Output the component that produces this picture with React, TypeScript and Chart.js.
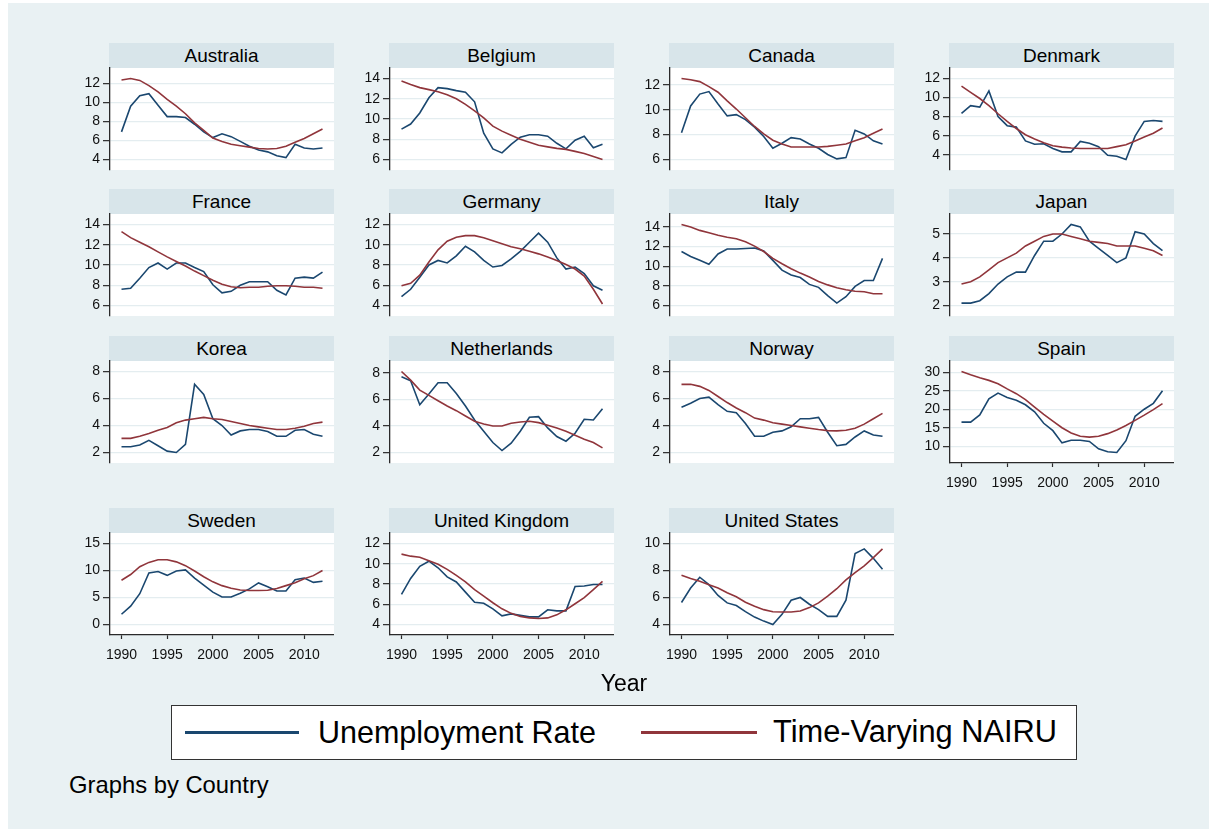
import React, { useEffect, useRef } from "react";
import { Chart, registerables } from "chart.js";
Chart.register(...registerables);

const years = [1990, 1991, 1992, 1993, 1994, 1995, 1996, 1997, 1998, 1999, 2000, 2001, 2002, 2003, 2004, 2005, 2006, 2007, 2008, 2009, 2010, 2011, 2012];
const xTicks = [1990, 1995, 2000, 2005, 2010];

const countries = ["Australia", "Belgium", "Canada", "Denmark", "France", "Germany", "Italy", "Japan", "Korea", "Netherlands", "Norway", "Spain", "Sweden", "United Kingdom", "United States"];

const australiaUnemp = [6.9, 9.6, 10.7, 10.9, 9.7, 8.5, 8.5, 8.4, 7.7, 6.9, 6.3, 6.7, 6.4, 5.9, 5.4, 5.0, 4.8, 4.4, 4.2, 5.6, 5.2, 5.1, 5.2];
const australiaNairu = [12.35, 12.5, 12.3, 11.75, 11.1, 10.3, 9.6, 8.8, 7.85, 7.05, 6.25, 5.9, 5.6, 5.45, 5.3, 5.15, 5.1, 5.15, 5.4, 5.8, 6.2, 6.7, 7.2];
const australiaTicks = [4, 6, 8, 10, 12];

const belgiumUnemp = [9.0, 9.5, 10.6, 12.1, 13.1, 13.0, 12.8, 12.65, 11.7, 8.6, 7.05, 6.65, 7.5, 8.2, 8.45, 8.45, 8.3, 7.6, 7.05, 7.9, 8.3, 7.15, 7.5];
const belgiumNairu = [13.75, 13.4, 13.1, 12.9, 12.7, 12.4, 12.0, 11.45, 10.8, 10.1, 9.3, 8.8, 8.4, 8.0, 7.7, 7.4, 7.25, 7.1, 7.0, 6.8, 6.6, 6.3, 6.0];
const belgiumTicks = [6, 8, 10, 12, 14];

const canadaUnemp = [8.15, 10.3, 11.25, 11.45, 10.45, 9.5, 9.6, 9.2, 8.6, 7.85, 6.9, 7.3, 7.75, 7.65, 7.25, 6.9, 6.4, 6.05, 6.15, 8.35, 8.05, 7.5, 7.25];
const canadaNairu = [12.5, 12.4, 12.25, 11.85, 11.4, 10.7, 10.05, 9.35, 8.65, 8.05, 7.55, 7.25, 7.0, 7.0, 7.0, 7.0, 7.05, 7.15, 7.25, 7.5, 7.75, 8.1, 8.45];
const canadaTicks = [6, 8, 10, 12];

const denmarkUnemp = [8.35, 9.15, 9.0, 10.7, 8.0, 7.05, 6.9, 5.45, 5.1, 5.15, 4.65, 4.3, 4.3, 5.4, 5.2, 4.85, 3.95, 3.85, 3.5, 5.95, 7.5, 7.6, 7.5];
const denmarkNairu = [11.2, 10.55, 9.9, 9.15, 8.3, 7.5, 6.75, 6.1, 5.65, 5.25, 4.95, 4.8, 4.7, 4.65, 4.65, 4.65, 4.65, 4.85, 5.05, 5.45, 5.85, 6.25, 6.8];
const denmarkTicks = [4, 6, 8, 10, 12];

const franceUnemp = [7.6, 7.7, 8.7, 9.75, 10.2, 9.6, 10.2, 10.2, 9.75, 9.35, 8.05, 7.25, 7.4, 8.0, 8.35, 8.35, 8.35, 7.5, 7.05, 8.7, 8.8, 8.7, 9.3];
const franceNairu = [13.3, 12.7, 12.25, 11.8, 11.3, 10.8, 10.35, 9.9, 9.4, 8.95, 8.5, 8.1, 7.85, 7.75, 7.8, 7.8, 7.9, 7.95, 7.95, 7.9, 7.8, 7.8, 7.7];
const franceTicks = [6, 8, 10, 12, 14];

const germanyUnemp = [4.87, 5.6, 6.8, 8.0, 8.45, 8.2, 8.9, 9.85, 9.3, 8.45, 7.8, 7.95, 8.6, 9.35, 10.25, 11.15, 10.25, 8.7, 7.6, 7.8, 7.15, 5.95, 5.5];
const germanyNairu = [5.95, 6.2, 7.0, 8.3, 9.5, 10.35, 10.75, 10.9, 10.9, 10.7, 10.4, 10.1, 9.8, 9.6, 9.35, 9.1, 8.8, 8.45, 8.05, 7.6, 6.9, 5.6, 4.15];
const germanyTicks = [4, 6, 8, 10, 12];

const italyUnemp = [11.5, 11.0, 10.6, 10.2, 11.25, 11.75, 11.75, 11.8, 11.85, 11.55, 10.6, 9.6, 9.1, 8.85, 8.15, 7.85, 7.0, 6.25, 6.9, 7.95, 8.55, 8.55, 10.8];
const italyNairu = [14.25, 14.0, 13.65, 13.4, 13.15, 12.95, 12.8, 12.5, 12.05, 11.5, 10.8, 10.25, 9.75, 9.3, 8.9, 8.45, 8.1, 7.8, 7.6, 7.45, 7.4, 7.2, 7.2];
const italyTicks = [6, 8, 10, 12, 14];

const japanUnemp = [2.1, 2.1, 2.2, 2.5, 2.9, 3.2, 3.4, 3.4, 4.1, 4.7, 4.7, 5.0, 5.4, 5.3, 4.7, 4.4, 4.1, 3.8, 4.0, 5.1, 5.0, 4.6, 4.3];
const japanNairu = [2.9, 3.0, 3.2, 3.5, 3.8, 4.0, 4.2, 4.5, 4.7, 4.9, 5.0, 5.0, 4.9, 4.8, 4.7, 4.65, 4.6, 4.5, 4.5, 4.5, 4.4, 4.3, 4.1];
const japanTicks = [2, 3, 4, 5];

const koreaUnemp = [2.43, 2.43, 2.55, 2.9, 2.5, 2.1, 2.0, 2.6, 7.05, 6.3, 4.5, 4.0, 3.3, 3.6, 3.7, 3.7, 3.55, 3.2, 3.2, 3.65, 3.7, 3.35, 3.2];
const koreaNairu = [3.05, 3.05, 3.2, 3.4, 3.65, 3.85, 4.2, 4.4, 4.5, 4.6, 4.5, 4.45, 4.3, 4.15, 4.0, 3.9, 3.8, 3.7, 3.7, 3.8, 3.95, 4.15, 4.25];
const koreaTicks = [2, 4, 6, 8];

const netherlandsUnemp = [7.7, 7.4, 5.6, 6.4, 7.25, 7.25, 6.45, 5.5, 4.45, 3.6, 2.75, 2.15, 2.7, 3.6, 4.65, 4.7, 3.85, 3.2, 2.85, 3.45, 4.5, 4.45, 5.3];
const netherlandsNairu = [8.1, 7.45, 6.7, 6.3, 5.9, 5.5, 5.15, 4.75, 4.35, 4.15, 4.0, 4.0, 4.2, 4.3, 4.35, 4.25, 4.05, 3.85, 3.6, 3.3, 3.0, 2.75, 2.35];
const netherlandsTicks = [2, 4, 6, 8];

const norwayUnemp = [5.35, 5.65, 6.0, 6.1, 5.55, 5.05, 4.95, 4.15, 3.2, 3.2, 3.5, 3.6, 3.9, 4.5, 4.5, 4.6, 3.5, 2.5, 2.6, 3.15, 3.6, 3.3, 3.2];
const norwayNairu = [7.05, 7.05, 6.9, 6.6, 6.15, 5.7, 5.3, 4.95, 4.55, 4.4, 4.2, 4.1, 4.0, 3.9, 3.8, 3.7, 3.62, 3.6, 3.65, 3.8, 4.1, 4.5, 4.9];
const norwayTicks = [2, 4, 6, 8];

const spainUnemp = [16.5, 16.5, 18.45, 22.8, 24.35, 23.2, 22.4, 21.2, 19.3, 16.2, 14.2, 10.9, 11.6, 11.6, 11.3, 9.3, 8.5, 8.3, 11.5, 18.1, 20.0, 21.6, 25.0];
const spainNairu = [30.2, 29.3, 28.5, 27.8, 26.9, 25.5, 24.2, 22.6, 20.6, 18.6, 16.8, 15.0, 13.6, 12.7, 12.45, 12.7, 13.4, 14.4, 15.6, 17.0, 18.4, 19.9, 21.5];
const spainTicks = [10, 15, 20, 25, 30];

const swedenUnemp = [1.9, 3.4, 5.7, 9.55, 9.8, 9.1, 9.9, 10.1, 8.6, 7.3, 6.0, 5.1, 5.1, 5.8, 6.6, 7.7, 7.0, 6.2, 6.2, 8.3, 8.6, 7.8, 8.0];
const swedenNairu = [8.2, 9.25, 10.7, 11.5, 12.0, 12.0, 11.6, 10.9, 9.9, 8.85, 7.9, 7.2, 6.7, 6.4, 6.3, 6.3, 6.35, 6.65, 7.2, 7.75, 8.45, 9.05, 10.0];
const swedenTicks = [0, 5, 10, 15];

const ukUnemp = [6.98, 8.55, 9.75, 10.25, 9.6, 8.7, 8.2, 7.2, 6.2, 6.1, 5.55, 4.85, 5.05, 4.9, 4.75, 4.75, 5.45, 5.35, 5.35, 7.75, 7.8, 7.95, 7.95];
const ukNairu = [10.95, 10.75, 10.65, 10.3, 9.95, 9.45, 8.85, 8.2, 7.45, 6.8, 6.15, 5.55, 5.1, 4.8, 4.65, 4.6, 4.65, 4.95, 5.45, 6.05, 6.65, 7.45, 8.25];
const ukTicks = [4, 6, 8, 10, 12];

const usUnemp = [5.63, 6.7, 7.5, 6.95, 6.15, 5.6, 5.4, 4.95, 4.55, 4.25, 4.0, 4.75, 5.8, 6.0, 5.5, 5.1, 4.6, 4.6, 5.8, 9.25, 9.6, 8.9, 8.1];
const usNairu = [7.65, 7.4, 7.2, 6.95, 6.7, 6.35, 6.05, 5.65, 5.35, 5.1, 4.95, 4.93, 4.93, 5.0, 5.25, 5.6, 6.1, 6.65, 7.3, 7.85, 8.35, 8.95, 9.6];
const usTicks = [4, 6, 8, 10];

const unempSeries = [australiaUnemp, belgiumUnemp, canadaUnemp, denmarkUnemp, franceUnemp, germanyUnemp, italyUnemp, japanUnemp, koreaUnemp, netherlandsUnemp, norwayUnemp, spainUnemp, swedenUnemp, ukUnemp, usUnemp];
const nairuSeries = [australiaNairu, belgiumNairu, canadaNairu, denmarkNairu, franceNairu, germanyNairu, italyNairu, japanNairu, koreaNairu, netherlandsNairu, norwayNairu, spainNairu, swedenNairu, ukNairu, usNairu];
const tickSeries = [australiaTicks, belgiumTicks, canadaTicks, denmarkTicks, franceTicks, germanyTicks, italyTicks, japanTicks, koreaTicks, netherlandsTicks, norwayTicks, spainTicks, swedenTicks, ukTicks, usTicks];

const seriesLabels = ["Unemployment Rate", "Time-Varying NAIRU"];

// Styling / layout
const FONT = '"Liberation Sans", Arial, Helvetica, sans-serif';
const BG = "#e9f1f3";
const STRIP = "#d8e5ea";
const GRID = "#e4edf0";
const AXIS = "#2a2a2a";
const BLUE = "#1a476f";
const RED = "#90353b";
const COL_X = [110, 390, 670, 950];
const ROW_TOP = [43, 189, 336, 508];
const STRIP_H = 25;
const PLOT_W = 224;
const PLOT_H = 102;
const LEFT = 70;
const PAD = 12;
const XAXIS_H = 40;
const MARGIN = 10.5;

type PanelProps = {
  name: string;
  unemp: number[];
  nairu: number[];
  ticks: number[];
  col: number;
  row: number;
  showX: boolean;
};

function Panel({ name, unemp, nairu, ticks, col, row, showX }: PanelProps) {
  const ref = useRef<HTMLCanvasElement>(null);
  const axisX = COL_X[col];
  const stripTop = ROW_TOP[row];
  const plotTop = stripTop + STRIP_H;
  const canvasW = LEFT + PLOT_W;
  const canvasH = PAD + PLOT_H + (showX ? XAXIS_H : PAD);

  useEffect(() => {
    const lo = Math.min(ticks[0], ...unemp, ...nairu);
    const hi = Math.max(ticks[ticks.length - 1], ...unemp, ...nairu);
    const ppu = (PLOT_H - 2 * MARGIN) / (hi - lo);
    const yMin = lo - MARGIN / ppu;
    const yMax = hi + MARGIN / ppu;
    const xFirst = years[0];
    const xLast = years[years.length - 1];
    const xppu = (PLOT_W - 23) / (xLast - xFirst);
    const xMin = xFirst - 11.5 / xppu;
    const xMax = xLast + 11.5 / xppu;

    const chart = new Chart(ref.current as HTMLCanvasElement, {
      type: "line",
      data: {
        datasets: [
          {
            label: seriesLabels[0],
            data: years.map((x, i) => ({ x, y: unemp[i] })),
            borderColor: BLUE,
            backgroundColor: BLUE,
            borderWidth: 1.6,
            pointRadius: 0,
            tension: 0,
            fill: false,
            order: 1,
          },
          {
            label: seriesLabels[1],
            data: years.map((x, i) => ({ x, y: nairu[i] })),
            borderColor: RED,
            backgroundColor: RED,
            borderWidth: 1.6,
            pointRadius: 0,
            tension: 0,
            fill: false,
            order: 0,
          },
        ],
      },
      options: {
        responsive: false,
        animation: false,
        events: [],
        layout: { padding: { top: PAD, bottom: showX ? 0 : PAD, left: 0, right: 0 } },
        plugins: { legend: { display: false }, tooltip: { enabled: false }, title: { display: false } },
        scales: {
          x: {
            type: "linear",
            min: xMin,
            max: xMax,
            display: showX,
            grid: { display: true, drawOnChartArea: false, drawTicks: true, tickLength: 4, tickColor: AXIS, tickWidth: 1.2 },
            border: { display: true, color: AXIS, width: 1.3 },
            ticks: {
              color: "#111",
              font: { family: FONT, size: 14 },
              padding: 8,
              maxRotation: 0,
              autoSkip: false,
              callback: (v: any) => String(v),
            },
            afterBuildTicks: (s: any) => {
              s.ticks = xTicks.map((v) => ({ value: v }));
            },
            afterFit: (s: any) => {
              s.height = showX ? XAXIS_H : 0;
              s.paddingLeft = 0;
              s.paddingRight = 0;
            },
          },
          y: {
            type: "linear",
            min: yMin,
            max: yMax,
            grid: { display: true, drawOnChartArea: true, drawTicks: true, tickLength: 7, color: GRID, lineWidth: 1.3, tickColor: AXIS, tickWidth: 1.2 },
            border: { display: true, color: AXIS, width: 1.3 },
            ticks: {
              color: "#111",
              font: { family: FONT, size: 14 },
              padding: 3,
              autoSkip: false,
              callback: (v: any) => String(v),
            },
            afterBuildTicks: (s: any) => {
              s.ticks = ticks.map((v) => ({ value: v }));
            },
            afterFit: (s: any) => {
              s.width = LEFT;
              s.paddingTop = 0;
              s.paddingBottom = 0;
            },
          },
        },
      },
    } as any);
    return () => chart.destroy();
  }, []);

  return (
    <>
      <div
        style={{
          position: "absolute",
          left: axisX - 1,
          top: stripTop,
          width: PLOT_W + 1,
          height: STRIP_H,
          background: STRIP,
          fontFamily: FONT,
          fontSize: 19,
          lineHeight: STRIP_H + "px",
          textAlign: "center",
          color: "#000",
        }}
      >
        {name}
      </div>
      <div
        style={{
          position: "absolute",
          left: axisX - 1,
          top: plotTop,
          width: PLOT_W + 1,
          height: PLOT_H,
          background: "#fff",
        }}
      />
      <canvas
        ref={ref}
        width={canvasW}
        height={canvasH}
        style={{ position: "absolute", left: axisX - LEFT, top: plotTop - PAD, width: canvasW, height: canvasH }}
      />
    </>
  );
}

export default function App() {
  const panels = countries.map((name, i) => {
    const col = i % 4;
    const row = Math.floor(i / 4);
    const showX = i >= 11;
    return (
      <Panel
        key={name}
        name={name}
        unemp={unempSeries[i]}
        nairu={nairuSeries[i]}
        ticks={tickSeries[i]}
        col={col}
        row={row}
        showX={showX}
      />
    );
  });

  return (
    <div style={{ position: "absolute", left: 0, top: 0, width: 1209, height: 829, background: "#fff", overflow: "hidden" }}>
      <div style={{ position: "absolute", left: 8, top: 3, width: 1201, height: 826, background: BG }} />
      {panels}
      <div
        style={{
          position: "absolute",
          left: 524,
          top: 668,
          width: 200,
          height: 30,
          lineHeight: "30px",
          textAlign: "center",
          fontFamily: FONT,
          fontSize: 23,
          color: "#000",
        }}
      >
        Year
      </div>
      <div
        style={{
          position: "absolute",
          left: 171,
          top: 705,
          width: 906,
          height: 55,
          background: "#fff",
          border: "1.5px solid #333",
          boxSizing: "border-box",
          fontFamily: FONT,
          color: "#000",
        }}
      >
        <div style={{ position: "absolute", left: 13, top: 25, width: 114, height: 3, background: BLUE }} />
        <div style={{ position: "absolute", left: 146, top: 0, height: 52, lineHeight: "52px", fontSize: 30.5, whiteSpace: "nowrap" }}>
          {seriesLabels[0]}
        </div>
        <div style={{ position: "absolute", left: 469, top: 25, width: 116, height: 3, background: RED }} />
        <div style={{ position: "absolute", left: 601, top: 0, height: 52, lineHeight: "52px", fontSize: 30.8, whiteSpace: "nowrap" }}>
          {seriesLabels[1]}
        </div>
      </div>
      <div
        style={{
          position: "absolute",
          left: 69,
          top: 770,
          height: 30,
          lineHeight: "30px",
          fontFamily: FONT,
          fontSize: 23.8,
          color: "#000",
          whiteSpace: "nowrap",
        }}
      >
        Graphs by Country
      </div>
    </div>
  );
}
